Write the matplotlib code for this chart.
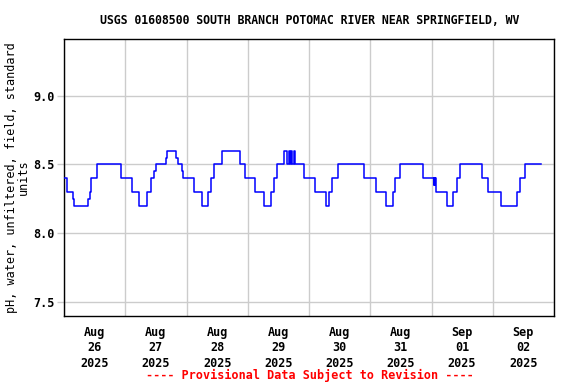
import matplotlib
matplotlib.use('Agg')
import matplotlib.pyplot as plt
import matplotlib.dates as mdates
import numpy as np
import pandas as pd

start = pd.Timestamp('2025-08-26 00:00')
end = pd.Timestamp('2025-09-03 00:00')

# change points of the pH record, hours after start -> value held from then
hours = [0.0, 1.18, 3.53, 4.04, 9.40, 10.19, 10.70, 12.93, 22.53, 26.45,
         29.27, 32.64, 34.09, 35.38, 35.93, 39.97, 40.24, 43.89, 44.55, 46.12,
         46.75, 51.06, 53.96, 56.54, 57.60, 58.97, 62.03, 68.96, 71.04, 74.96,
         78.37, 80.99, 82.48, 83.58, 86.32, 87.50, 88.16, 88.67, 89.07, 89.46,
         89.93, 90.71, 94.04, 98.35, 102.54, 103.95, 105.13, 107.25, 117.67, 122.14,
         126.05, 128.80, 129.70, 131.66, 140.79, 144.79, 144.98, 145.18, 145.37, 145.57,
         149.96, 152.54, 153.88, 155.29, 163.67, 166.26, 171.12, 177.39, 178.68, 180.64,
         186.79]
ph = [8.4, 8.3, 8.25, 8.2, 8.25, 8.3, 8.4, 8.5, 8.4, 8.3,
      8.2, 8.3, 8.4, 8.45, 8.5, 8.55, 8.6, 8.55, 8.5, 8.45,
      8.4, 8.3, 8.2, 8.3, 8.4, 8.5, 8.6, 8.5, 8.4, 8.3,
      8.2, 8.3, 8.4, 8.5, 8.6, 8.5, 8.6, 8.5, 8.6, 8.5,
      8.6, 8.5, 8.4, 8.3, 8.2, 8.3, 8.4, 8.5, 8.4, 8.3,
      8.2, 8.3, 8.4, 8.5, 8.4, 8.35, 8.4, 8.35, 8.4, 8.3,
      8.2, 8.3, 8.4, 8.5, 8.4, 8.3, 8.2, 8.3, 8.4, 8.5,
      8.5]

yticks = [7.5, 8.0, 8.5, 9.0]

title = 'USGS 01608500 SOUTH BRANCH POTOMAC RIVER NEAR SPRINGFIELD, WV'
ylabel = 'pH, water, unfiltered, field, standard\nunits'
footer = '---- Provisional Data Subject to Revision ----'

plt.rcParams['font.family'] = ['DejaVu Sans Mono']
plt.rcParams['font.weight'] = 'bold'
plt.rcParams['font.size'] = 8.5

times = start + pd.to_timedelta(hours, unit='h')

fig = plt.figure(figsize=(5.76, 3.84), dpi=100)
ax = fig.add_axes([64 / 576, 1 - 316 / 384, 490 / 576, 277 / 384])

ax.plot(times, ph, drawstyle='steps-post', color='#0000ff', lw=1.1, zorder=3)

ax.set_xlim(start, end)
ax.set_ylim(7.4, 9.41)
ax.set_yticks(yticks)
ax.yaxis.set_major_formatter(plt.FormatStrFormatter('%.1f'))

ax.xaxis.set_major_locator(mdates.HourLocator(byhour=[12]))
ax.xaxis.set_major_formatter(mdates.DateFormatter('%b\n%d\n%Y'))
ax.xaxis.set_minor_locator(mdates.DayLocator())

ax.grid(True, which='minor', axis='x', color='#cccccc', lw=1.0)
ax.grid(True, which='major', axis='y', color='#cccccc', lw=1.0)
ax.tick_params(axis='x', which='both', length=0, pad=7)
ax.tick_params(axis='y', length=5, color='#cccccc', width=1.0, pad=2)
for lab in ax.get_xticklabels():
    lab.set_linespacing(1.25)

for s in ax.spines.values():
    s.set_linewidth(1.0)
    s.set_color('black')

ax.set_ylabel(ylabel, labelpad=2, linespacing=0.95)
fig.text(310 / 576, 1 - 20 / 384, title, ha='center', va='center', fontsize=8.3)
fig.text(310 / 576, 1 - 375 / 384, footer, ha='center', va='center', color='red')

fig.savefig('out.png', dpi=100)
